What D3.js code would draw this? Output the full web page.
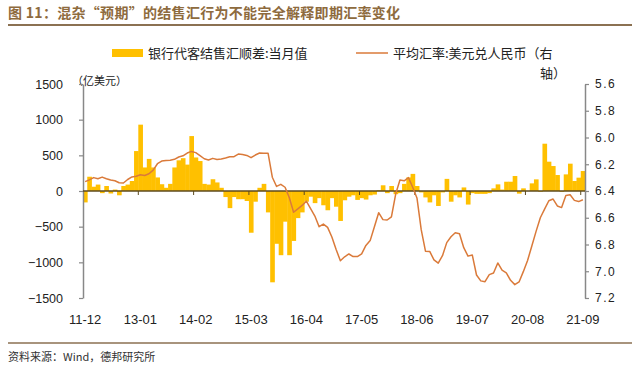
<!DOCTYPE html>
<html><head><meta charset="utf-8">
<script src="https://cdn.jsdelivr.net/npm/d3@7"></script>
<style>body{margin:0;background:#fff;} svg{display:block;}</style>
</head><body>
<svg id="c" width="640" height="369"></svg>
<script>
// ---- data ----
const categories = [];
(function(){ let y=2011, m=12; while(!(y===2021 && m===10)){ categories.push(String(y%100).padStart(2,"0")+"-"+String(m).padStart(2,"0")); m++; if(m>12){m=1;y++;} } })();

const tickLabels = ["11-12","13-01","14-02","15-03","16-04","17-05","18-06","19-07","20-08","21-09"];
const leftTicks = [-1500,-1000,-500,0,500,1000,1500];
const rightTicks = [5.6,5.8,6.0,6.2,6.4,6.6,6.8,7.0,7.2];

// 银行代客结售汇顺差：当月值 (亿美元)
const settlement = [
  -160, 200, 60, 90, -30, 70, -35, 20, -60, 70, 90, 140,
  560, 930, 330, 450, 330, 190, 95, 45, 100, 330, 430, 460,
  370, 770, 470, 420, 100, 90, 165, 120, 45, -85, -240, -85,
  -115, -115, -140, -585, -150, 45, 100, -300, -1280, -740, -900, -430,
  -900, -700, -380, -300, -150, -80, -170, -100, -200, -270, -100, -220,
  -420, -130, -80, -60, -125, -100, -120, -60, -50, 10, 80, -30,
  70, -45, -30, 100, 190, 240, 70, -20, -90, -160, -60, -210,
  -20, 170, -150, -60, -90, 50, -190, -30, -40, -40, -40, -30,
  37, 93, 20, 130, 130, 210, -37, 37, 0, 107, 163, -10,
  663, 411, 350, 224, -10, 233, 383, 140, 187, 280
];
// 平均汇率：美元兑人民币 (右轴)
const rate = [
  6.330,
  6.317, 6.300, 6.308, 6.296, 6.308, 6.318, 6.323, 6.338, 6.340, 6.314, 6.295, 6.290,
  6.279, 6.284, 6.271, 6.244, 6.196, 6.176, 6.172, 6.170, 6.163, 6.146, 6.137, 6.116,
  6.104, 6.113, 6.136, 6.159, 6.168, 6.156, 6.164, 6.161, 6.153, 6.144, 6.143, 6.124,
  6.127, 6.134, 6.151, 6.131, 6.116, 6.117, 6.117, 6.297, 6.366, 6.350, 6.372, 6.450,
  6.559, 6.534, 6.508, 6.476, 6.532, 6.587, 6.667, 6.647, 6.672, 6.744, 6.838, 6.921,
  6.892, 6.871, 6.890, 6.890, 6.870, 6.807, 6.771, 6.667, 6.562, 6.614, 6.617, 6.593,
  6.423, 6.318, 6.324, 6.300, 6.372, 6.452, 6.689, 6.850, 6.852, 6.915, 6.939, 6.884,
  6.786, 6.742, 6.712, 6.719, 6.824, 6.887, 6.878, 7.028, 7.072, 7.078, 7.025, 7.013,
  6.938, 6.992, 7.012, 7.068, 7.100, 7.080, 7.003, 6.920, 6.811, 6.702, 6.600, 6.536,
  6.473, 6.460, 6.512, 6.524, 6.434, 6.428, 6.470, 6.479, 6.465
];

// ---- drawing ----
const svg = d3.select("#c");
const barColor = "#FFC000", lineColor = "#DA7A3A", titleColor = "#8E6B3E";
const CJK = "'Noto Sans CJK SC','Noto Sans',sans-serif";
const LAT = "'Liberation Sans',Arial,sans-serif";

const x = d3.scaleBand().domain(categories).range([83,585]).padding(0);
const bw = x.bandwidth();
const yL = d3.scaleLinear().domain([-1500,1500]).range([298,84]);
const yR = d3.scaleLinear().domain([5.6,7.2]).range([84,298]);

// title
svg.append("text").attr("x",8).attr("y",18).attr("fill",titleColor)
  .attr("font-family",CJK).attr("font-weight","bold").attr("font-size",14)
  .attr("letter-spacing",0.3)
  .text("图 11：混杂“预期”的结售汇行为不能完全解释即期汇率变化");
svg.append("line").attr("x1",8).attr("x2",632).attr("y1",25).attr("y2",25)
  .attr("stroke","#8B7152").attr("stroke-width",2);

// legend
svg.append("rect").attr("x",112).attr("y",49).attr("width",31).attr("height",8).attr("fill",barColor);
svg.append("text").attr("x",148).attr("y",58).attr("font-family",CJK).attr("font-size",13)
  .attr("fill","#222").text("银行代客结售汇顺差:当月值");
svg.append("line").attr("x1",356).attr("x2",388).attr("y1",53).attr("y2",53)
  .attr("stroke",lineColor).attr("stroke-width",1.5);
svg.append("text").attr("x",393).attr("y",58).attr("font-family",CJK).attr("font-size",13)
  .attr("fill","#222").text("平均汇率:美元兑人民币（右");
svg.append("text").attr("x",540).attr("y",78).attr("font-family",CJK).attr("font-size",13)
  .attr("fill","#222").text("轴）");

// unit
svg.append("text").attr("x",72).attr("y",85).attr("font-family",CJK).attr("font-size",11)
  .attr("fill","#222").text("（亿美元）");

// bars
svg.append("g").selectAll("rect").data(settlement).join("rect")
  .attr("x",(d,i)=>x(categories[i]))
  .attr("width",bw+0.4)
  .attr("y",d=>yL(Math.max(0,d)))
  .attr("height",d=>Math.abs(yL(d)-yL(0)))
  .attr("fill",barColor);

// left axis
const gL = svg.append("g").attr("transform","translate(83,0)")
  .call(d3.axisLeft(yL).tickValues(leftTicks).tickSize(4).tickSizeOuter(0).tickPadding(16)
    .tickFormat(d=>d<0?"\u2212"+Math.abs(d):String(d)));
gL.select(".domain").attr("stroke","#888").attr("stroke-width",1.5);
gL.selectAll(".tick line").attr("stroke","#888").attr("stroke-width",1.2);
gL.selectAll(".tick text").attr("font-family",LAT).attr("font-size",12.5).attr("fill","#222");

// right axis
const gR = svg.append("g").attr("transform","translate(585,0)")
  .call(d3.axisRight(yR).tickValues(rightTicks).tickSize(4).tickSizeOuter(0).tickPadding(6)
    .tickFormat(d3.format(".1f")));
gR.select(".domain").attr("stroke","#888").attr("stroke-width",1.5);
gR.selectAll(".tick line").attr("stroke","#888").attr("stroke-width",1.2);
gR.selectAll(".tick text").attr("font-family",LAT).attr("font-size",12).attr("letter-spacing",1.5).attr("fill","#222");

// zero line / category axis
const y0 = yL(0);
svg.append("line").attr("x1",83).attr("x2",585).attr("y1",y0).attr("y2",y0)
  .attr("stroke","#5C4A1E").attr("stroke-width",1.6);
const gX = svg.append("g");
tickLabels.forEach(lbl=>{
  const xs = x(lbl);
  if (categories.indexOf(lbl)>0)
    gX.append("line").attr("x1",xs).attr("x2",xs).attr("y1",y0).attr("y2",y0+4)
      .attr("stroke","#5C4A1E").attr("stroke-width",1);
  gX.append("text").attr("x",xs+bw/2).attr("y",324).attr("text-anchor","middle")
    .attr("font-family",LAT).attr("font-size",13).attr("fill","#222").text(lbl);
});

// rate line
const line = d3.line().x((d,i)=>x(categories[i])+bw/2).y(d=>yR(d)).curve(d3.curveLinear);
svg.append("path").datum(rate).attr("d",line).attr("fill","none")
  .attr("stroke",lineColor).attr("stroke-width",1.5).attr("stroke-linejoin","round");

// footer
svg.append("line").attr("x1",8).attr("x2",632).attr("y1",343).attr("y2",343)
  .attr("stroke","#8B7152").attr("stroke-width",1.5);
svg.append("text").attr("x",8).attr("y",361).attr("font-family",CJK).attr("font-size",11)
  .attr("fill","#333").text("资料来源：Wind，德邦研究所");
</script>
</body></html>
